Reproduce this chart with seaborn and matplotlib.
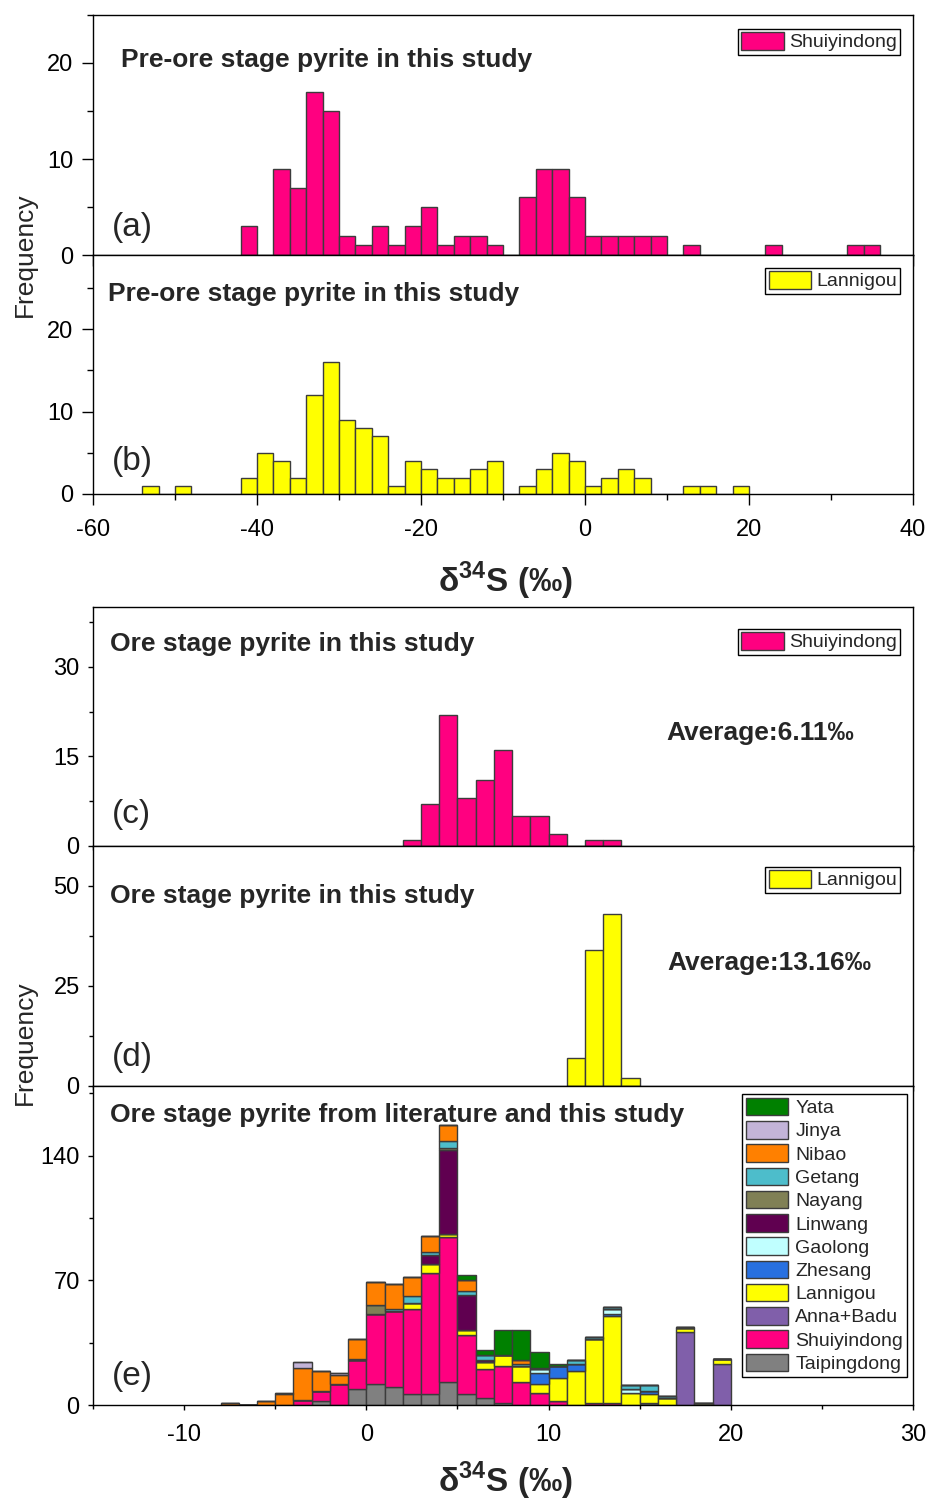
import numpy as np
import pandas as pd
import matplotlib
matplotlib.use("Agg")
import matplotlib.pyplot as plt
import seaborn as sns
from matplotlib.patches import Patch
from matplotlib.ticker import MultipleLocator

sns.set_style("ticks")
plt.rcParams['font.family'] = ['Liberation Sans', 'DejaVu Sans']
plt.rcParams['mathtext.fontset'] = 'custom'
plt.rcParams['mathtext.rm'] = 'Liberation Sans'
plt.rcParams['mathtext.bf'] = 'Liberation Sans:bold'
plt.rcParams['axes.unicode_minus'] = False

# ---------------- data ----------------
# (a) pre-ore Shuiyindong, 2 permil bins (left edges)
a_bin_left = [-42, -40, -38, -36, -34, -32, -30, -28, -26, -24, -22, -20, -18, -16, -14,
              -12, -10, -8, -6, -4, -2, 0, 2, 4, 6, 8, 10, 12, 14, 16, 18, 20, 22, 24,
              26, 28, 30, 32, 34]
a_counts = [3, 0, 9, 7, 17, 15, 2, 1, 3, 1, 3, 5, 1, 2, 2,
            1, 0, 6, 9, 9, 6, 2, 2, 2, 2, 2, 0, 1, 0, 0, 0, 0, 1, 0,
            0, 0, 0, 1, 1]
# (b) pre-ore Lannigou, 2 permil bins
b_bin_left = [-54, -52, -50, -48, -46, -44, -42, -40, -38, -36, -34, -32, -30, -28, -26,
              -24, -22, -20, -18, -16, -14, -12, -10, -8, -6, -4, -2, 0, 2, 4, 6, 8,
              10, 12, 14, 16, 18]
b_counts = [1, 0, 1, 0, 0, 0, 2, 5, 4, 2, 12, 16, 9, 8, 7,
            1, 4, 3, 2, 2, 3, 4, 0, 1, 3, 5, 4, 1, 2, 3, 2, 0,
            0, 1, 1, 0, 1]
# (c) ore stage Shuiyindong, 1 permil bins
c_bin_left = [2, 3, 4, 5, 6, 7, 8, 9, 10, 11, 12, 13]
c_counts = [1, 7, 22, 8, 11, 16, 5, 5, 2, 0, 1, 1]
# (d) ore stage Lannigou
d_bin_left = [11, 12, 13, 14]
d_counts = [7, 34, 43, 2]

# (e) literature + this study, 1 permil bins from -8 to 20
e_bin_left = list(range(-8, 20))
e_sites = ["Yata", "Jinya", "Nibao", "Getang", "Nayang", "Linwang", "Gaolong",
           "Zhesang", "Lannigou", "Anna+Badu", "Shuiyindong", "Taipingdong"]
e_counts = {
    #             -8 -7 -6 -5  -4  -3  -2  -1   0   1   2   3   4   5   6   7   8   9  10  11  12  13  14  15  16  17  18  19
    "Yata":       [0, 0, 0, 0,  0,  0,  0,  0,  0,  0,  0,  0,  0,  3,  3, 14, 17,  9,  1,  0,  0,  0,  0,  0,  0,  0,  0,  0],
    "Jinya":      [0, 0, 0, 1,  3,  0,  1,  0,  0,  0,  0,  0,  0,  0,  0,  0,  0,  0,  0,  0,  0,  0,  0,  0,  0,  0,  0,  0],
    "Nibao":      [1, 0, 2, 6, 18, 11,  5, 11, 13, 14, 11,  9,  9,  6,  0,  0,  2,  0,  0,  0,  0,  0,  0,  0,  0,  0,  0,  0],
    "Getang":     [0, 0, 0, 0,  0,  0,  0,  0,  0,  1,  4,  2,  4,  2,  3,  0,  1,  1,  0,  2,  1,  1,  2,  3,  1,  1,  0,  0],
    "Nayang":     [0, 0, 0, 0,  0,  0,  0,  1,  5,  0,  0,  0,  1,  0,  0,  0,  0,  0,  0,  0,  0,  0,  0,  0,  0,  0,  1,  0],
    "Linwang":    [0, 0, 0, 0,  0,  0,  0,  0,  0,  0,  0,  5, 47, 20,  1,  0,  0,  0,  0,  0,  0,  0,  0,  0,  0,  0,  0,  0],
    "Gaolong":    [0, 0, 0, 0,  0,  0,  0,  0,  0,  0,  0,  0,  0,  0,  0,  0,  0,  2,  0,  0,  0,  3,  2,  0,  0,  0,  0,  0],
    "Zhesang":    [0, 0, 0, 0,  0,  0,  0,  0,  0,  0,  0,  0,  0,  0,  0,  0,  0,  6,  7,  4,  0,  1,  0,  2,  0,  0,  0,  0],
    "Lannigou":   [0, 0, 0, 0,  0,  0,  0,  0,  0,  0,  3,  5,  2,  3,  4,  6,  9,  5, 13, 19, 36, 49,  7,  5,  4,  2,  0,  3],
    "Anna+Badu":  [0, 0, 0, 0,  0,  0,  0,  0,  0,  0,  0,  0,  0,  0,  0,  0,  0,  0,  0,  0,  0,  0,  0,  0,  0, 41,  0, 23],
    "Shuiyindong":[0, 0, 0, 0,  3,  6, 12, 16, 39, 43, 48, 68, 81, 33, 16, 21, 13,  7,  2,  0,  1,  1,  0,  0,  0,  0,  0,  0],
    "Taipingdong":[0, 0, 0, 0,  0,  2,  0,  9, 12, 10,  6,  6, 13,  6,  4,  1,  0,  0,  0,  0,  0,  0,  0,  1,  0,  0,  0,  0],
}
site_colors = {
    "Yata": "#008000", "Jinya": "#C3B4D8", "Nibao": "#FF8000", "Getang": "#4DBDCB",
    "Nayang": "#808055", "Linwang": "#600050", "Gaolong": "#C0FFFF", "Zhesang": "#2870E0",
    "Lannigou": "#FFFF00", "Anna+Badu": "#805FAA", "Shuiyindong": "#FF0080",
    "Taipingdong": "#808080",
}
PINK = "#FF0080"
YELLOW = "#FFFF00"
EDGE = "#3c3c3c"

# ---------------- figure ----------------
W, H = 930, 1501
fig = plt.figure(figsize=(W / 100, H / 100), dpi=100)

def axes_px(left, top, right, bottom):
    return fig.add_axes([left / W, 1 - bottom / H, (right - left) / W, (bottom - top) / H])

ax_a = axes_px(93, 15, 913, 255)
ax_b = axes_px(93, 255, 913, 494)
ax_c = axes_px(93, 607, 913, 846)
ax_d = axes_px(93, 846, 913, 1086)
ax_e = axes_px(93, 1086, 913, 1405)

def simple_hist(ax, lefts, counts, width, color):
    lefts = np.asarray(lefts, dtype=float)
    df = pd.DataFrame({"x": lefts + width / 2, "w": counts})
    sns.histplot(data=df, x="x", weights="w", binwidth=width,
                 binrange=(float(lefts[0]), float(lefts[-1] + width)), color=color,
                 edgecolor=EDGE, linewidth=1.0, alpha=1, ax=ax)

simple_hist(ax_a, a_bin_left, a_counts, 2, PINK)
simple_hist(ax_b, b_bin_left, b_counts, 2, YELLOW)
simple_hist(ax_c, c_bin_left, c_counts, 1, PINK)
simple_hist(ax_d, d_bin_left, d_counts, 1, YELLOW)

rows = []
for site in e_sites:
    for left, cnt in zip(e_bin_left, e_counts[site]):
        rows.append({"x": left + 0.5, "w": cnt, "site": site})
e_df = pd.DataFrame(rows)
sns.histplot(data=e_df, x="x", weights="w", hue="site", hue_order=e_sites,
             palette=site_colors, multiple="stack", binwidth=1,
             binrange=(float(e_bin_left[0]), float(e_bin_left[-1] + 1)),
             edgecolor=EDGE, linewidth=1.0, alpha=1, legend=False, ax=ax_e)

# ---------------- axes styling ----------------
cfg = [
    (ax_a, (-60, 40), (0, 25), 20, 10, 10, 5, False, 8.0, 4.3),
    (ax_b, (-60, 40), (0, 29), 20, 10, 10, 5, True, 8.0, 4.3),
    (ax_c, (-15, 30), (0, 40), 10, 5, 15, 7.5, False, 3.6, 3.0),
    (ax_d, (-15, 30), (0, 60), 10, 5, 25, 12.5, False, 3.6, 3.0),
    (ax_e, (-15, 30), (0, 179), 10, 5, 70, 35, True, 3.6, 3.0),
]
for ax, xl, yl, xmaj, xmin, ymaj, ymin, showx, lmaj, lmin in cfg:
    ax.set_xlim(*xl)
    ax.set_ylim(*yl)
    ax.xaxis.set_major_locator(MultipleLocator(xmaj))
    ax.xaxis.set_minor_locator(MultipleLocator(xmin))
    ax.yaxis.set_major_locator(MultipleLocator(ymaj))
    ax.yaxis.set_minor_locator(MultipleLocator(ymin))
    ax.set_xlabel("")
    ax.set_ylabel("")
    for sp in ax.spines.values():
        sp.set_visible(True)
        sp.set_color("black")
        sp.set_linewidth(1.0)
    ax.tick_params(which="major", direction="out", length=lmaj, width=1, labelsize=17,
                   colors="black", pad=6)
    ax.tick_params(axis="x", which="major", pad=10)
    ax.tick_params(which="minor", direction="out", length=lmin, width=1, colors="black")
    ax.tick_params(axis="x", labelbottom=showx)
    ax.set_facecolor("white")

# ---------------- texts ----------------
def ftext(x, y, s, **kw):
    fig.text(x / W, 1 - y / H, s, va="baseline", **kw)

ftext(121, 67, "Pre-ore stage pyrite in this study", fontsize=19, fontweight="bold")
ftext(108, 301, "Pre-ore stage pyrite in this study", fontsize=19, fontweight="bold")
ftext(110, 651, "Ore stage pyrite in this study", fontsize=19, fontweight="bold")
ftext(110, 903, "Ore stage pyrite in this study", fontsize=19, fontweight="bold")
ftext(110, 1122, "Ore stage pyrite from literature and this study", fontsize=19,
      fontweight="bold")
ftext(666, 740, "Average:6.11‰", fontsize=19, fontweight="bold")
ftext(667, 970, "Average:13.16‰", fontsize=19, fontweight="bold")
for lab, yb in [("(a)", 236), ("(b)", 470), ("(c)", 823), ("(d)", 1066), ("(e)", 1385)]:
    ftext(112, yb, lab, fontsize=24)

fig.text(25 / W, 1 - 255 / H, "Frequency", rotation=90, ha="center", va="center",
         fontsize=19)
fig.text(25 / W, 1 - 1043 / H, "Frequency", rotation=90, ha="center", va="center",
         fontsize=19)
xlab = r"δ$^{\mathbf{34}}$S (‰)"
fig.text(505 / W, 1 - 581 / H, xlab, ha="center", va="center", fontsize=24,
         fontweight="bold")
fig.text(505 / W, 1 - 1481 / H, xlab, ha="center", va="center", fontsize=24,
         fontweight="bold")

# ---------------- legends ----------------
def single_legend(ax, label, color, right_px, top_px, ax_top_px, ax_bot_px):
    h = [Patch(facecolor=color, edgecolor=EDGE, linewidth=1.0)]
    x = (right_px - 93) / 820
    y = 1 - (top_px - ax_top_px) / (ax_bot_px - ax_top_px)
    leg = ax.legend(h, [label], loc="upper right", bbox_to_anchor=(x, y),
                    borderaxespad=0, fontsize=14, handlelength=2.2, handleheight=1.0,
                    handletextpad=0.25, borderpad=0.16, fancybox=False, framealpha=1,
                    edgecolor="black")
    leg.get_frame().set_linewidth(1.0)

single_legend(ax_a, "Shuiyindong", PINK, 900, 29, 15, 255)
single_legend(ax_b, "Lannigou", YELLOW, 900, 268, 255, 494)
single_legend(ax_c, "Shuiyindong", PINK, 900, 629, 607, 846)
single_legend(ax_d, "Lannigou", YELLOW, 900, 867, 846, 1086)

handles = [Patch(facecolor=site_colors[s], edgecolor=EDGE, linewidth=1.0) for s in e_sites]
leg = ax_e.legend(handles, e_sites, loc="upper right",
                  bbox_to_anchor=((907 - 93) / 820, 1 - (1094 - 1086) / 319),
                  borderaxespad=0, fontsize=14, handlelength=2.2, handleheight=1.0,
                  handletextpad=0.35, labelspacing=0.2, borderpad=0.2, fancybox=False,
                  framealpha=1, edgecolor="black")
leg.get_frame().set_linewidth(1.0)

fig.savefig("out.png", dpi=100, facecolor="white")
